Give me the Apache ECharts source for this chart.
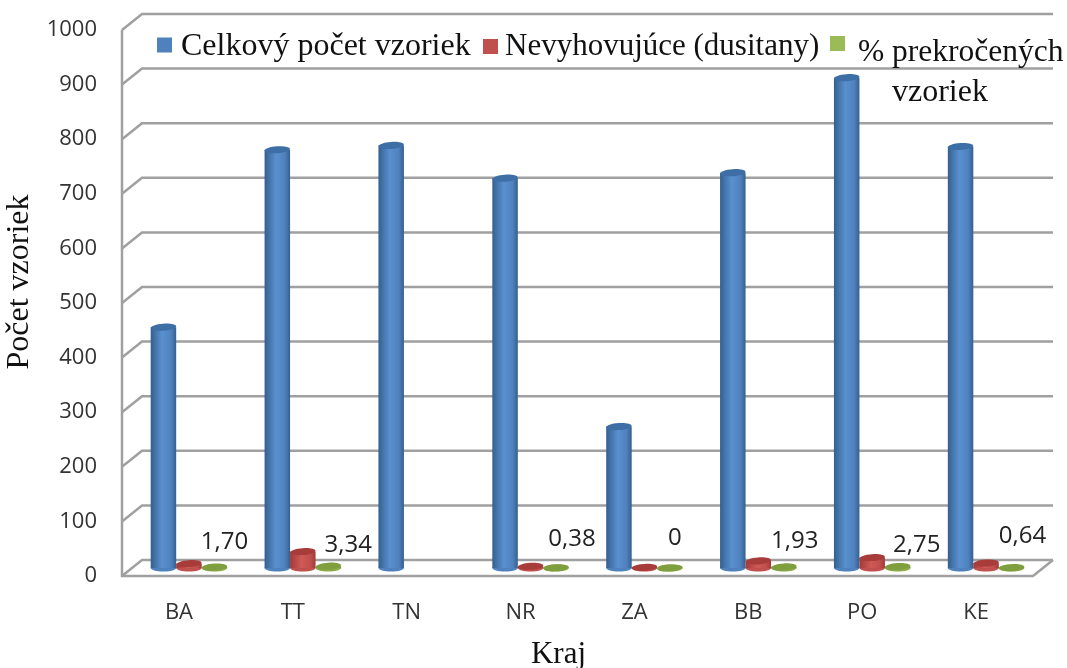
<!DOCTYPE html>
<html>
<head>
<meta charset="utf-8">
<title>Kraj</title>
<style>
html, body { margin: 0; padding: 0; background: #fff; }
#chart { width: 1067px; height: 668px; }
</style>
<script src="https://cdn.jsdelivr.net/npm/echarts@6/dist/echarts.min.js"></script>
</head>
<body>
<div id="chart"></div>
<script>
const categories = ["BA", "TT", "TN", "NR", "ZA", "BB", "PO", "KE"];
const yTicks = [0, 100, 200, 300, 400, 500, 600, 700, 800, 900, 1000];
const totalSamples = [441, 766, 774, 714, 259, 724, 898, 772];
const failedSamples = [8, 30, null, 3, 1, 13, 19, 9];
const exceededPercent = [1.70, 3.34, null, 0.38, 0, 1.93, 2.75, 0.64];

// hand placed percent labels, same as the source chart
const labelNudge = [[10, -26], [20, -23], [0, 0], [16, -29], [5, -30], [11, -27], [19, -23], [11, -32]];

const chart = echarts.init(document.getElementById("chart"));

const serif = "Liberation Serif";
const sans = "Open Sans";
const depthX = 20;
const depthY = -16;
const barWidth = 25.5;
const gridColor = "#a0a0a0";

function toPoints(values) {
	return values.map(function (v, i) { return [i, v]; });
}

function fmtPercent(v) {
	return v === 0 ? "0" : v.toFixed(2).replace(".", ",");
}

// back wall, floor and the short diagonals on the left
function renderFrame(params, api) {
	const rect = params.coordSys;
	const y = api.coord([0, api.value(1)])[1];
	const left = rect.x;
	const right = rect.x + rect.width;
	const style = { stroke: gridColor, lineWidth: 2.5, fill: null };
	const lines = [{
		type: "polyline",
		shape: { points: [[left, y], [left + depthX, y + depthY], [right + depthX, y + depthY]] },
		style: style
	}];
	if (api.value(1) === 0) {
		lines.push({
			type: "polyline",
			shape: { points: [[left, rect.y], [left, y], [right, y], [right + depthX, y + depthY]] },
			style: style
		});
	}
	return { type: "group", children: lines };
}

function cylinder(offset, colors, withLabel) {
	return function (params, api) {
		const v = api.value(1);
		if (isNaN(v)) return null;
		const i = api.value(0);
		const base = api.coord([i, 0]);
		const top = api.coord([i, v]);
		const cx = base[0] + depthX / 2 + offset * barWidth;
		const by = base[1] + depthY / 2;
		const ty = top[1] + depthY / 2;
		const rx = barWidth / 2;
		const ry = 3.5;
		const children = [{
			type: "ellipse",
			shape: { cx: cx, cy: by, rx: rx, ry: ry },
			style: { fill: colors.main }
		}, {
			type: "rect",
			shape: { x: cx - rx, y: ty, width: rx * 2, height: by - ty },
			style: {
				fill: new echarts.graphic.LinearGradient(0, 0, 1, 0, [
					{ offset: 0, color: colors.dark },
					{ offset: 0.45, color: colors.light },
					{ offset: 0.8, color: colors.main },
					{ offset: 1, color: colors.dark }
				])
			}
		}, {
			type: "ellipse",
			shape: { cx: cx, cy: ty, rx: rx, ry: ry },
			rotation: 0.07,
			originX: cx,
			originY: ty,
			style: { fill: colors.top }
		}];
		if (withLabel) {
			children.push({
				type: "text",
				style: {
					text: fmtPercent(exceededPercent[i]),
					x: cx + labelNudge[i][0],
					y: by + labelNudge[i][1],
					align: "center",
					verticalAlign: "middle",
					fill: "#222",
					font: "24px '" + sans + "'"
				}
			});
		}
		return { type: "group", children: children };
	};
}

const blue = { main: "#4f81bd", light: "#5a90d0", dark: "#34608f", top: "#3d6ea6" };
const red = { main: "#c0504d", light: "#cf5a56", dark: "#a03a38", top: "#a83c3a" };
const green = { main: "#8cab4a", light: "#8cab4a", dark: "#7a9a3a", top: "#7f9e3e" };

// text goes through a rich token so it can sit lower than its icon
function legendBox(name, left, top, fontSize, textPadding, shownName) {
	return {
		data: [name],
		left: left,
		top: top,
		icon: "rect",
		itemWidth: 15,
		itemHeight: 15,
		itemGap: 8,
		selectedMode: false,
		padding: 0,
		formatter: function () { return "{t|" + (shownName || name) + "}"; },
		textStyle: {
			rich: {
				t: { fontFamily: serif, fontSize: fontSize, color: "#111", padding: textPadding }
			}
		}
	};
}

chart.setOption({
	animation: false,
	backgroundColor: "#fff",
	grid: { left: 122, right: 34, top: 30, bottom: 92, outerBoundsMode: "none" },
	legend: [
		legendBox("Celkový počet vzoriek", 157, 31, 32, [4, 0, 0, 4]),
		legendBox("Nevyhovujúce (dusitany)", 483, 31, 31, [0, 0, 0, 2]),
		legendBox("% prekročených vzoriek", 830, 36, 31.5, [18, 0, 0, 8], "% prekročených")
	],
	xAxis: {
		type: "category",
		data: categories,
		name: "Kraj",
		nameLocation: "middle",
		nameGap: 63,
		nameTextStyle: { fontFamily: serif, fontSize: 31, color: "#111", padding: [0, 38, 0, 0] },
		axisLine: { show: false },
		axisTick: { show: false },
		axisLabel: { margin: 26, fontFamily: sans, fontSize: 22, color: "#333" }
	},
	yAxis: {
		type: "value",
		min: yTicks[0],
		max: yTicks[yTicks.length - 1],
		interval: 100,
		name: "Počet vzoriek",
		nameLocation: "middle",
		nameGap: 76,
		nameTextStyle: { fontFamily: serif, fontSize: 32, color: "#111", padding: [0, 0, 0, 42] },
		axisLine: { show: false },
		axisTick: { show: false },
		splitLine: { show: false },
		axisLabel: {
			margin: 25,
			fontFamily: sans,
			fontSize: 22,
			color: "#333",
			formatter: function (v) { return String(v); }
		}
	},
	graphic: [{
		type: "text",
		left: 892,
		top: 77,
		style: { text: "vzoriek", font: "32px '" + serif + "'", fill: "#111" }
	}],
	series: [{
		name: "frame",
		type: "custom",
		silent: true,
		clip: false,
		z: 1,
		renderItem: renderFrame,
		data: yTicks.map(function (v) { return [0, v]; })
	}, {
		name: "Celkový počet vzoriek",
		type: "custom",
		clip: false,
		z: 3,
		itemStyle: { color: blue.main },
		renderItem: cylinder(-1, blue, false),
		data: toPoints(totalSamples)
	}, {
		name: "Nevyhovujúce (dusitany)",
		type: "custom",
		clip: false,
		z: 4,
		itemStyle: { color: red.main },
		renderItem: cylinder(0, red, false),
		data: toPoints(failedSamples)
	}, {
		name: "% prekročených vzoriek",
		type: "custom",
		clip: false,
		z: 5,
		itemStyle: { color: "#9bbb59" },
		renderItem: cylinder(1, green, true),
		data: toPoints(exceededPercent)
	}]
});
</script>
</body>
</html>
